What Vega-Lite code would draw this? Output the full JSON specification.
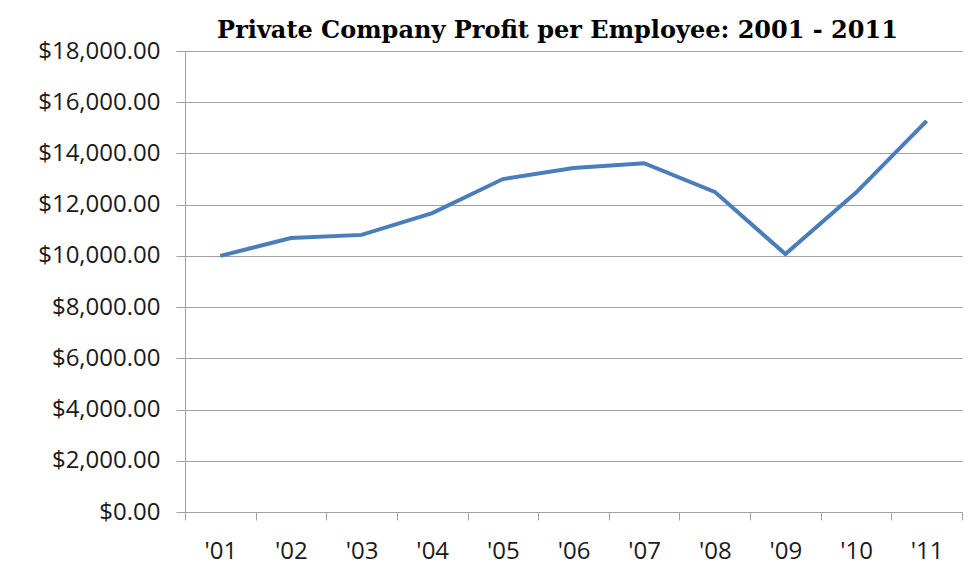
{
  "$schema": "https://vega.github.io/schema/vega-lite/v6.json",
  "width": 777,
  "height": 461,
  "autosize": {"type": "none"},
  "padding": {"left": 185, "top": 51, "right": 16, "bottom": 65},
  "background": "white",
  "title": {
    "text": "Private Company Profit per Employee: 2001 - 2011",
    "font": "DejaVu Serif",
    "fontSize": 24,
    "fontWeight": "bold",
    "color": "#000000",
    "anchor": "middle",
    "frame": "group",
    "dx": -16,
    "dy": 4,
    "offset": 0
  },
  "data": {
    "values": [
      {"year": "'01", "profit": 10000},
      {"year": "'02", "profit": 10700},
      {"year": "'03", "profit": 10820},
      {"year": "'04", "profit": 11670},
      {"year": "'05", "profit": 13000},
      {"year": "'06", "profit": 13430},
      {"year": "'07", "profit": 13620},
      {"year": "'08", "profit": 12500},
      {"year": "'09", "profit": 10070},
      {"year": "'10", "profit": 12470},
      {"year": "'11", "profit": 15270}
    ]
  },
  "mark": {"type": "line", "color": "#4a7ebb", "strokeWidth": 4},
  "encoding": {
    "x": {
      "field": "year",
      "type": "ordinal",
      "sort": null,
      "scale": {"type": "band", "paddingInner": 0, "paddingOuter": 0},
      "axis": {
        "title": null,
        "labelAngle": 0,
        "tickBand": "extent",
        "tickSize": 8,
        "tickColor": "#a0a0a0",
        "domainColor": "#a0a0a0",
        "labelFont": "Open Sans",
        "labelFontSize": 24,
        "labelColor": "#1a1a1a",
        "labelPadding": 19,
        "grid": false
      }
    },
    "y": {
      "field": "profit",
      "type": "quantitative",
      "scale": {"domain": [0, 18000], "nice": false},
      "axis": {
        "title": null,
        "values": [0, 2000, 4000, 6000, 8000, 10000, 12000, 14000, 16000, 18000],
        "format": "$,.2f",
        "tickSize": 9,
        "tickColor": "#a0a0a0",
        "domainColor": "#a0a0a0",
        "gridColor": "#a0a0a0",
        "gridOpacity": 1,
        "labelFont": "Open Sans",
        "labelFontSize": 24,
        "labelColor": "#1a1a1a",
        "labelPadding": 16
      }
    }
  },
  "config": {"view": {"stroke": null}}
}
